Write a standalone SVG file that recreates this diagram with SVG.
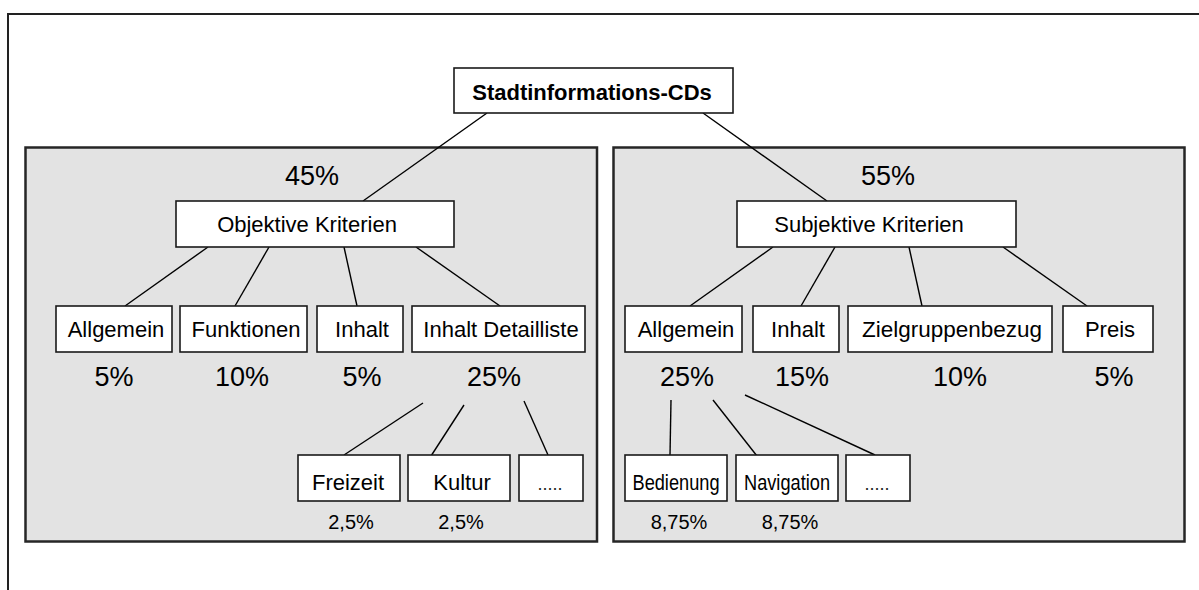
<svg xmlns="http://www.w3.org/2000/svg" width="1199" height="590" viewBox="0 0 1199 590">
  <style>
    .frame { fill: #ffffff; stroke: #222222; stroke-width: 2; }
    .panel { fill: #e3e3e3; stroke: #262626; stroke-width: 2.5; }
    .box { fill: #ffffff; stroke: #1a1a1a; stroke-width: 1.6; }
    .link { stroke: #000000; stroke-width: 1.4; fill: none; }
    text { font-family: "Liberation Sans", Arial, sans-serif; fill: #000000; text-anchor: middle; }
    .root { font-size: 22px; font-weight: bold; }
    .lbl { font-size: 22px; }
    .dots { font-size: 18px; fill: #222222; }
    .pct { font-size: 27px; }
    .spct { font-size: 20px; }
  </style>

  <!-- outer frame, open to the right and bottom -->
  <rect class="frame" x="8" y="14" width="1220" height="600"/>

  <!-- grey panels for the two criteria groups -->
  <rect class="panel" x="25.5" y="147.5" width="571.5" height="394"/>
  <rect class="panel" x="613.5" y="147.5" width="571" height="394"/>

  <!-- connectors -->
  <g id="connectors">
    <line class="link" x1="487" y1="113" x2="363" y2="201"/>
    <line class="link" x1="703" y1="113" x2="827" y2="201"/>

    <line class="link" x1="208" y1="247" x2="125" y2="306"/>
    <line class="link" x1="269" y1="247" x2="235" y2="306"/>
    <line class="link" x1="344" y1="247" x2="357" y2="306"/>
    <line class="link" x1="416" y1="247" x2="500" y2="306"/>

    <line class="link" x1="423" y1="403" x2="344" y2="455"/>
    <line class="link" x1="464" y1="405" x2="431" y2="456"/>
    <line class="link" x1="524" y1="401" x2="548" y2="455"/>

    <line class="link" x1="773" y1="247" x2="690" y2="306"/>
    <line class="link" x1="835" y1="247" x2="801" y2="306"/>
    <line class="link" x1="909" y1="247" x2="922" y2="306"/>
    <line class="link" x1="1003" y1="247" x2="1087" y2="306"/>

    <line class="link" x1="671" y1="400" x2="670" y2="455"/>
    <line class="link" x1="713" y1="400" x2="757" y2="456"/>
    <line class="link" x1="745" y1="395" x2="875" y2="455"/>
  </g>

  <!-- root -->
  <g id="root">
    <rect class="box" x="454" y="68" width="279" height="45"/>
    <text class="root" x="592" y="100">Stadtinformations-CDs</text>
  </g>

  <!-- objective branch -->
  <g id="objektiv">
    <text class="pct" x="312" y="185">45%</text>
    <rect class="box" x="176" y="201" width="278" height="46"/>
    <text class="lbl" x="307" y="232">Objektive Kriterien</text>
  </g>
  <g id="obj-allgemein">
    <rect class="box" x="56" y="306" width="116" height="46"/>
    <text class="lbl" x="116" y="337">Allgemein</text>
    <text class="pct" x="114" y="386">5%</text>
  </g>
  <g id="obj-funktionen">
    <rect class="box" x="180" y="306" width="127" height="46"/>
    <text class="lbl" x="246" y="337">Funktionen</text>
    <text class="pct" x="242" y="386">10%</text>
  </g>
  <g id="obj-inhalt">
    <rect class="box" x="317" y="306" width="86" height="46"/>
    <text class="lbl" x="362" y="337">Inhalt</text>
    <text class="pct" x="362" y="386">5%</text>
  </g>
  <g id="obj-detailliste">
    <rect class="box" x="412" y="306" width="173" height="46"/>
    <text class="lbl" x="501" y="337">Inhalt Detailliste</text>
    <text class="pct" x="494" y="386">25%</text>
  </g>
  <g id="obj-freizeit">
    <rect class="box" x="298" y="455" width="102" height="46"/>
    <text class="lbl" x="348" y="490">Freizeit</text>
    <text class="spct" x="351" y="529">2,5%</text>
  </g>
  <g id="obj-kultur">
    <rect class="box" x="408" y="455" width="102" height="46"/>
    <text class="lbl" x="462" y="490">Kultur</text>
    <text class="spct" x="461" y="529">2,5%</text>
  </g>
  <g id="obj-more">
    <rect class="box" x="519" y="455" width="64" height="46"/>
    <text class="dots" x="550" y="490">.....</text>
  </g>

  <!-- subjective branch -->
  <g id="subjektiv">
    <text class="pct" x="888" y="185">55%</text>
    <rect class="box" x="737" y="201" width="279" height="46"/>
    <text class="lbl" x="869" y="232">Subjektive Kriterien</text>
  </g>
  <g id="sub-allgemein">
    <rect class="box" x="625" y="306" width="117" height="46"/>
    <text class="lbl" x="686" y="337">Allgemein</text>
    <text class="pct" x="687" y="386">25%</text>
  </g>
  <g id="sub-inhalt">
    <rect class="box" x="753" y="306" width="86" height="46"/>
    <text class="lbl" x="798" y="337">Inhalt</text>
    <text class="pct" x="802" y="386">15%</text>
  </g>
  <g id="sub-zielgruppe">
    <rect class="box" x="848" y="306" width="204" height="46"/>
    <text class="lbl" x="952" y="337" textLength="180" lengthAdjust="spacingAndGlyphs">Zielgruppenbezug</text>
    <text class="pct" x="960" y="386">10%</text>
  </g>
  <g id="sub-preis">
    <rect class="box" x="1063" y="306" width="90" height="46"/>
    <text class="lbl" x="1110" y="337">Preis</text>
    <text class="pct" x="1114" y="386">5%</text>
  </g>
  <g id="sub-bedienung">
    <rect class="box" x="625" y="455" width="102" height="46"/>
    <text class="lbl" x="676" y="490" textLength="87" lengthAdjust="spacingAndGlyphs">Bedienung</text>
    <text class="spct" x="679" y="529">8,75%</text>
  </g>
  <g id="sub-navigation">
    <rect class="box" x="736" y="455" width="102" height="46"/>
    <text class="lbl" x="787" y="490" textLength="86" lengthAdjust="spacingAndGlyphs">Navigation</text>
    <text class="spct" x="790" y="529">8,75%</text>
  </g>
  <g id="sub-more">
    <rect class="box" x="846" y="455" width="64" height="46"/>
    <text class="dots" x="877" y="490">.....</text>
  </g>
</svg>
